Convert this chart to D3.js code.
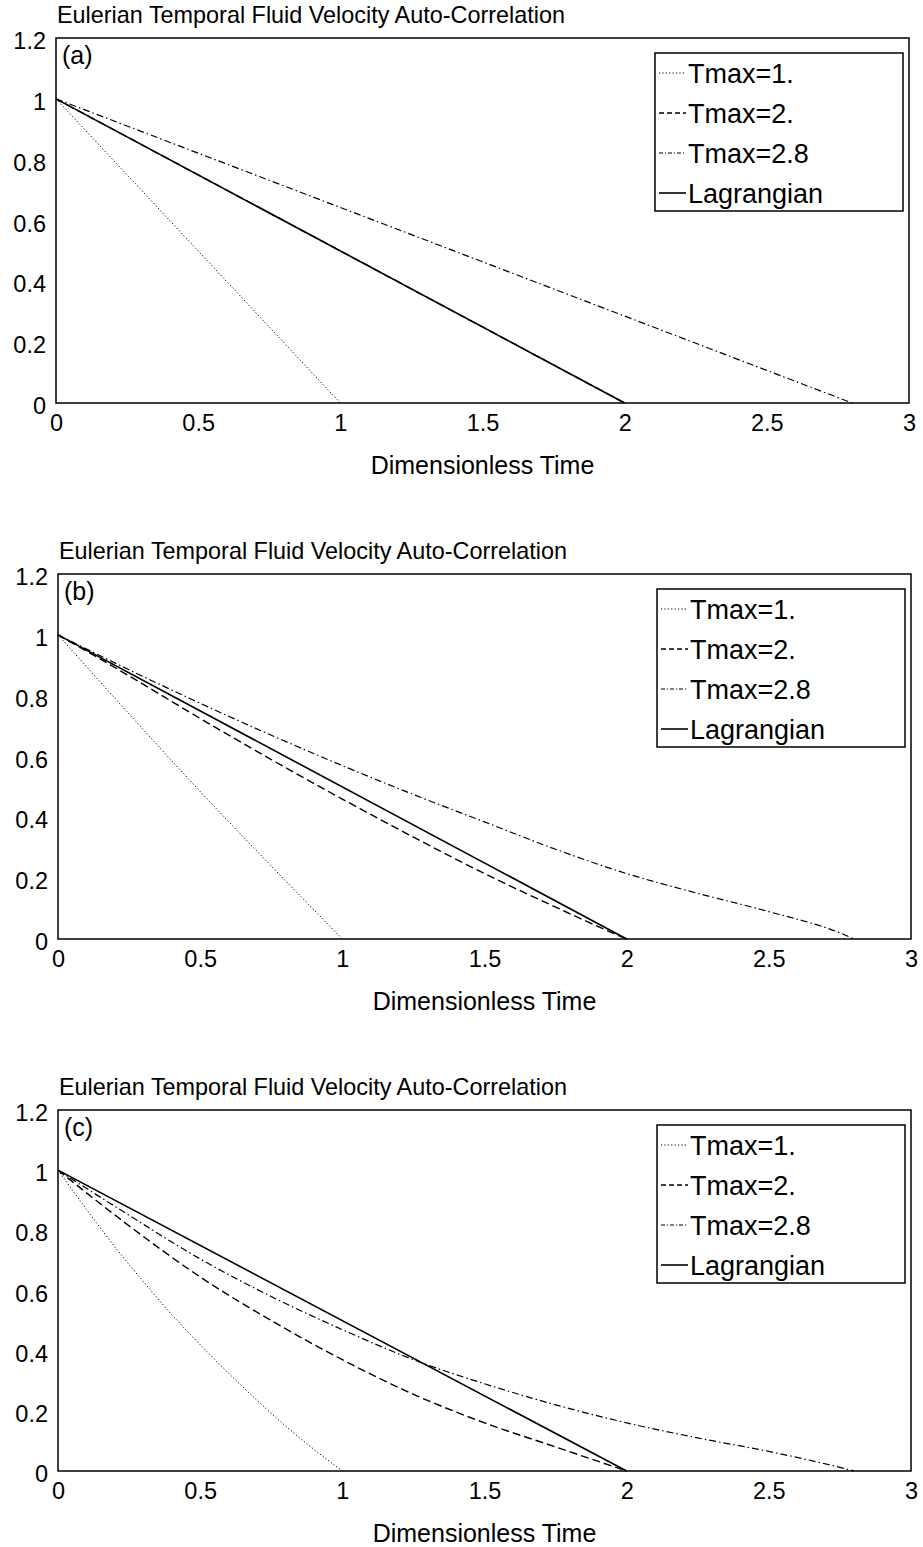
<!DOCTYPE html>
<html>
<head>
<meta charset="utf-8">
<title>Eulerian Temporal Fluid Velocity Auto-Correlation</title>
<script src="https://cdn.jsdelivr.net/npm/d3@7"></script>
<style>
body { margin: 0; background: #fff; }
svg { font-family: "Liberation Sans", Arial, Helvetica, sans-serif; }
.frame { fill: none; stroke: #000; stroke-width: 1.5; }
.tick text { fill: #000; }
</style>
</head>
<body>
<script>
var xTicks = [0, 0.5, 1, 1.5, 2, 2.5, 3];
var yTicks = [0, 0.2, 0.4, 0.6, 0.8, 1, 1.2];
var seriesNames = ["Tmax=1.", "Tmax=2.", "Tmax=2.8", "Lagrangian"];
var panelTags = ["(a)", "(b)", "(c)"];
var titleText = "Eulerian Temporal Fluid Velocity Auto-Correlation";
var xLabelText = "Dimensionless Time";

// lagrangian is the same straight line in all three
var lagrangian = [[0, 1], [2, 0]];

// panel (a)
var a1 = [[0, 1], [1, 0]];
var a2 = [[0, 1], [2, 0]];
var a28 = [[0, 1], [2.8, 0]];

// panel (b)
var b1 = [[0, 1], [0.25, 0.74], [0.5, 0.485], [0.75, 0.24], [1, 0]];
var b2 = [[0, 1], [0.25, 0.865], [0.5, 0.725], [0.75, 0.59], [1, 0.46], [1.25, 0.335],
          [1.5, 0.215], [1.75, 0.105], [1.95, 0.02], [2, 0]];
var b28 = [[0, 1], [0.25, 0.885], [0.5, 0.775], [0.75, 0.67], [1, 0.57], [1.25, 0.475],
           [1.5, 0.385], [1.75, 0.295], [2, 0.215], [2.25, 0.15], [2.5, 0.09], [2.75, 0.02], [2.8, 0]];

// panel (c)
var c1 = [[0, 1], [0.1, 0.87], [0.2, 0.745], [0.3, 0.63], [0.4, 0.52], [0.5, 0.42],
          [0.6, 0.325], [0.7, 0.235], [0.8, 0.15], [0.9, 0.072], [1, 0]];
var c2 = [[0, 1], [0.25, 0.815], [0.5, 0.645], [0.75, 0.5], [1, 0.37], [1.25, 0.255],
          [1.5, 0.16], [1.75, 0.08], [2, 0]];
var c28 = [[0, 1], [0.25, 0.85], [0.5, 0.705], [0.75, 0.58], [1, 0.47], [1.25, 0.37],
           [1.5, 0.29], [1.75, 0.22], [2, 0.16], [2.25, 0.11], [2.5, 0.065], [2.75, 0.012], [2.8, 0]];

var panelSeries = [
  [a1, a2, a28, lagrangian],
  [b1, b2, b28, lagrangian],
  [c1, c2, c28, lagrangian]
];

var dashes = ["1.2,2.2", "8,4", "7,3,1.5,3", null];
var widths = [1, 1.4, 1.2, 1.6];

var boxes = [
  {left: 56, right: 909, top: 38, bottom: 403},
  {left: 58, right: 911, top: 574, bottom: 939},
  {left: 58, right: 911, top: 1110, bottom: 1471}
];

var svg = d3.select("body").append("svg")
    .attr("width", 923)
    .attr("height", 1547);

for (var p = 0; p < 3; p++) {
  drawpanel(p);
}

function drawpanel(p) {
  var b = boxes[p];
  var x = d3.scaleLinear().domain([0, 3]).range([b.left, b.right]);
  var y = d3.scaleLinear().domain([0, 1.2]).range([b.bottom, b.top]);
  var g = svg.append("g");

  g.append("text")
      .attr("x", b.left + 1)
      .attr("y", b.top - 15)
      .attr("font-size", 23.4)
      .text(titleText);

  var xa = g.append("g")
      .attr("transform", "translate(0," + b.bottom + ")")
      .call(d3.axisBottom(x).tickValues(xTicks).tickSize(0).tickPadding(11).tickFormat(String));
  xa.select(".domain").remove();
  xa.selectAll("text").attr("font-size", 23.5);

  var ya = g.append("g")
      .attr("transform", "translate(" + b.left + ",0)")
      .call(d3.axisLeft(y).tickValues(yTicks).tickSize(0).tickPadding(10).tickFormat(String));
  ya.select(".domain").remove();
  ya.selectAll("text").attr("font-size", 23.5).attr("dy", "0.45em");

  g.append("text")
      .attr("x", (b.left + b.right) / 2)
      .attr("y", b.bottom + 71)
      .attr("text-anchor", "middle")
      .attr("font-size", 25)
      .text(xLabelText);

  var line = d3.line()
      .curve(d3.curveMonotoneX)
      .x(function(d) { return x(d[0]); })
      .y(function(d) { return y(d[1]); });

  panelSeries[p].forEach(function(s, i) {
    g.append("path")
        .datum(s)
        .attr("fill", "none")
        .attr("stroke", "#000")
        .attr("stroke-width", widths[i])
        .attr("stroke-dasharray", dashes[i])
        .attr("d", line);
  });

  g.append("rect")
      .attr("class", "frame")
      .attr("x", b.left)
      .attr("y", b.top)
      .attr("width", b.right - b.left)
      .attr("height", b.bottom - b.top);

  g.append("text")
      .attr("x", b.left + 6)
      .attr("y", b.top + 26)
      .attr("font-size", 25)
      .text(panelTags[p]);

  // legend box
  var lx = b.right - 254, ly = b.top + 15;
  g.append("rect")
      .attr("x", lx)
      .attr("y", ly)
      .attr("width", 248)
      .attr("height", 158)
      .attr("fill", "#fff")
      .attr("stroke", "#000")
      .attr("stroke-width", 1.5);

  seriesNames.forEach(function(name, i) {
    var ry = ly + 20 + i * 40;
    g.append("line")
        .attr("x1", lx + 4).attr("x2", lx + 31)
        .attr("y1", ry).attr("y2", ry)
        .attr("stroke", "#000")
        .attr("stroke-width", widths[i])
        .attr("stroke-dasharray", i == 1 ? "5,3" : (i == 2 ? "4,2,1,2" : dashes[i]));
    g.append("text")
        .attr("x", lx + 33)
        .attr("y", ry)
        .attr("dy", "0.36em")
        .attr("font-size", 27)
        .text(name);
  });
}
</script>
</body>
</html>
